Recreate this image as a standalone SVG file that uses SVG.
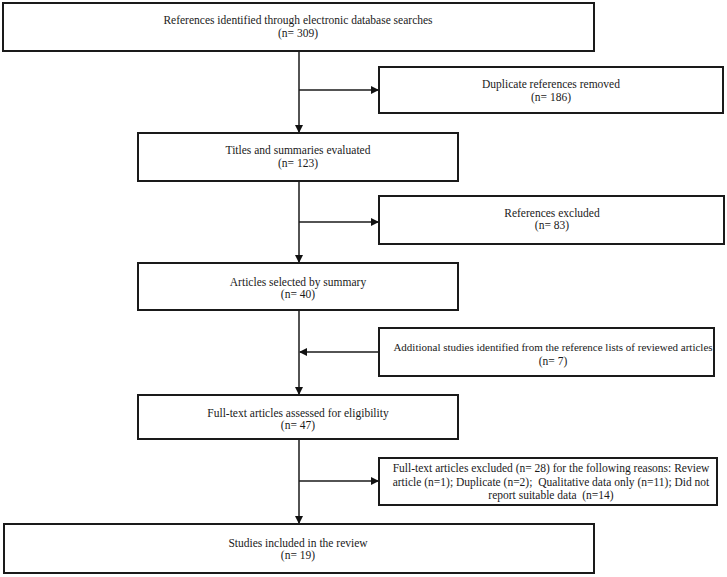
<svg xmlns="http://www.w3.org/2000/svg" width="727" height="577" viewBox="0 0 727 577">
<defs>
<marker id="ah" markerWidth="8" markerHeight="8" refX="7" refY="4" orient="auto" markerUnits="userSpaceOnUse">
<path d="M0,0 L8,4 L0,8 Z" fill="#111"/>
</marker>
<style>
.box{fill:#fff;stroke:#1a1a1a;stroke-width:2}
.t{font-family:"Liberation Serif","Times New Roman",serif;font-size:11.5px;fill:#1a1a1a;text-anchor:middle;white-space:pre}
.s{font-size:11px}
.c{stroke:#1a1a1a;stroke-width:1.5;fill:none}
</style>
</defs>
<rect width="727" height="577" fill="#fff"/>
<g id="connectors">
<line class="c" x1="299" y1="51" x2="299" y2="132" marker-end="url(#ah)"/>
<line class="c" x1="299" y1="90" x2="378" y2="90" marker-end="url(#ah)"/>
<line class="c" x1="299" y1="181" x2="299" y2="262" marker-end="url(#ah)"/>
<line class="c" x1="299" y1="222" x2="378" y2="222" marker-end="url(#ah)"/>
<line class="c" x1="299" y1="310" x2="299" y2="394" marker-end="url(#ah)"/>
<line class="c" x1="379" y1="352" x2="300" y2="352" marker-end="url(#ah)"/>
<line class="c" x1="299" y1="439" x2="299" y2="523" marker-end="url(#ah)"/>
<line class="c" x1="299" y1="481" x2="378" y2="481" marker-end="url(#ah)"/>
</g>
<g id="n1"><rect class="box" x="3" y="3" width="591" height="48"/>
<text class="t" x="298" y="24">References identified through electronic database searches</text>
<text class="t" x="298" y="37">(n= 309)</text></g>
<g id="n2"><rect class="box" x="379" y="67" width="344" height="46"/>
<text class="t" x="551" y="88">Duplicate references removed</text>
<text class="t" x="551" y="101">(n= 186)</text></g>
<g id="n3"><rect class="box" x="138" y="133" width="320" height="48"/>
<text class="t" x="298" y="154">Titles and summaries evaluated</text>
<text class="t" x="298" y="167">(n= 123)</text></g>
<g id="n4"><rect class="box" x="379" y="196" width="345" height="48"/>
<text class="t" x="552" y="217">References excluded</text>
<text class="t" x="552" y="229">(n= 83)</text></g>
<g id="n5"><rect class="box" x="138" y="263" width="320" height="47"/>
<text class="t" x="298" y="286">Articles selected by summary</text>
<text class="t" x="298" y="298">(n= 40)</text></g>
<g id="n6"><rect class="box" x="379" y="328" width="335" height="48"/>
<text class="t s" x="553" y="351">Additional studies identified from the reference lists of reviewed articles</text>
<text class="t" x="553" y="365">(n= 7)</text></g>
<g id="n7"><rect class="box" x="138" y="395" width="320" height="44"/>
<text class="t" x="298" y="417">Full-text articles assessed for eligibility</text>
<text class="t" x="298" y="429">(n= 47)</text></g>
<g id="n8"><rect class="box" x="379" y="458" width="338" height="47"/>
<text class="t" x="551" y="472">Full-text articles excluded (n= 28) for the following reasons: Review</text>
<text class="t" x="551" y="486">article (n=1); Duplicate (n=2);  Qualitative data only (n=11); Did not</text>
<text class="t" x="551" y="499">report suitable data  (n=14)</text></g>
<g id="n9"><rect class="box" x="4" y="524" width="590" height="49"/>
<text class="t" x="298" y="547">Studies included in the review</text>
<text class="t" x="298" y="559">(n= 19)</text></g>
</svg>
